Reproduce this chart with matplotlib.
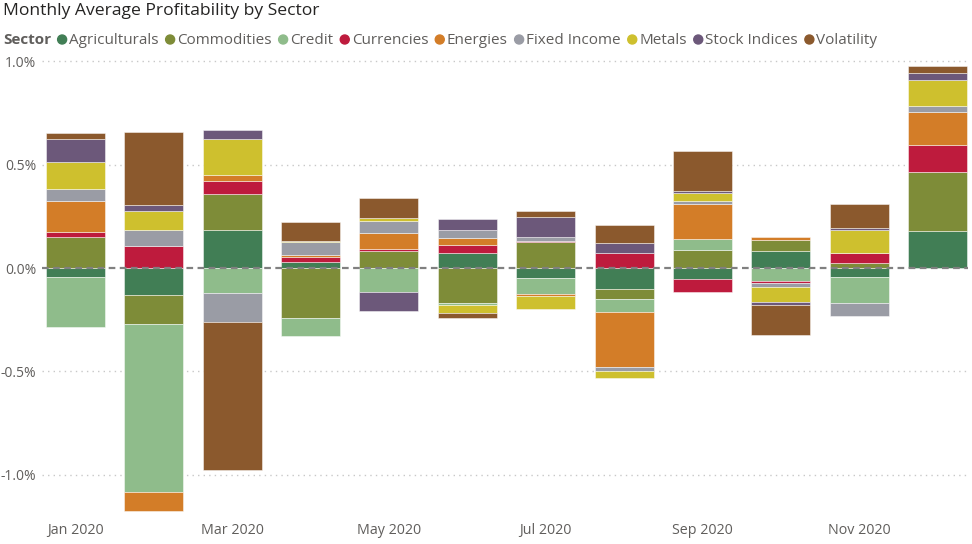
import matplotlib
matplotlib.use("Agg")
import matplotlib.pyplot as plt
import numpy as np

months = ["Jan 2020", "Feb 2020", "Mar 2020", "Apr 2020", "May 2020", "Jun 2020",
          "Jul 2020", "Aug 2020", "Sep 2020", "Oct 2020", "Nov 2020", "Dec 2020"]
sectors = ["Agriculturals", "Commodities", "Credit", "Currencies", "Energies",
           "Fixed Income", "Metals", "Stock Indices", "Volatility"]
colors = ["#417E55", "#7E8C38", "#8FBC8B", "#BE1B3D", "#D37D28",
          "#9A9CA5", "#CEC02E", "#6C587A", "#8B592D"]

agriculturals = [-0.044, -0.132, 0.186, 0.027, 0.0, 0.074, -0.048, -0.103, -0.055, 0.084, -0.044, 0.177]
commodities   = [0.151, -0.140, 0.174, -0.242, 0.080, -0.168, 0.126, -0.048, 0.087, 0.053, 0.024, 0.289]
credit        = [-0.243, -0.811, -0.122, -0.086, -0.115, -0.010, -0.079, -0.063, 0.055, -0.063, -0.127, 0.0]
currencies    = [0.023, 0.106, 0.060, 0.024, 0.013, 0.035, 0.006, 0.074, -0.063, -0.010, 0.050, 0.129]
energies      = [0.151, -0.093, 0.030, 0.010, 0.074, 0.037, -0.006, -0.263, 0.169, 0.015, 0.0, 0.158]
fixed_income  = [0.057, 0.077, -0.140, 0.063, 0.058, 0.037, 0.016, -0.019, 0.015, -0.019, -0.060, 0.032]
metals        = [0.132, 0.092, 0.173, 0.005, 0.015, -0.039, -0.066, -0.035, 0.039, -0.073, 0.110, 0.126]
stock_indices = [0.110, 0.031, 0.044, 0.0, -0.092, 0.053, 0.100, 0.048, 0.008, -0.016, 0.010, 0.031]
volatility    = [0.030, 0.351, -0.716, 0.094, 0.100, -0.026, 0.028, 0.084, 0.192, -0.144, 0.116, 0.037]

series = [agriculturals, commodities, credit, currencies, energies,
          fixed_income, metals, stock_indices, volatility]

yticks = [1.0, 0.5, 0.0, -0.5, -1.0]
ytick_labels = ["1.0%", "0.5%", "0.0%", "-0.5%", "-1.0%"]

plt.rcParams['font.family'] = ['Open Sans', 'DejaVu Sans']

W, H = 972, 544
fig = plt.figure(figsize=(W / 100, H / 100), dpi=100)
left_px, right_px, top_px, bottom_px = 42, 968, 55, 515
ax = fig.add_axes([left_px / W, 1 - bottom_px / H, (right_px - left_px) / W, (bottom_px - top_px) / H])

x = np.arange(len(months))
pos_base = np.zeros(len(months))
neg_base = np.zeros(len(months))
for vals, col in zip(series, colors):
    v = np.array(vals)
    bottoms = np.where(v >= 0, pos_base, neg_base)
    ax.bar(x, v, bottom=bottoms, width=0.753, color=col,
           edgecolor=(1, 1, 1, 0.55), linewidth=0.6, zorder=2)
    pos_base = pos_base + np.where(v > 0, v, 0)
    neg_base = neg_base + np.where(v < 0, v, 0)

px_per_unit = 78.36
ax.set_xlim((left_px - 75.5) / px_per_unit, 11 + (right_px - 937.5) / px_per_unit)
py_per_pct = 206.8
ax.set_ylim(-(bottom_px - 268) / py_per_pct, (268 - top_px) / py_per_pct)

for t in yticks:
    if t == 0:
        continue
    ax.axhline(t, color="#C8C8C8", linestyle=(0, (1, 3)), linewidth=1.0, zorder=1)
ax.axhline(0, color="#808080", linestyle=(0, (3, 2)), linewidth=1.6, zorder=3)

for s in ax.spines.values():
    s.set_visible(False)
ax.set_yticks(yticks)
ax.set_yticklabels(ytick_labels, fontsize=10, color="#605E5C")
ax.set_xticks(x[::2])
ax.set_xticklabels(months[::2], fontsize=10.3, color="#605E5C")
ax.tick_params(axis="both", length=0, pad=4)
ax.tick_params(axis="x", pad=6)

fig.text(3 / W, 1 - 11 / H, "Monthly Average Profitability by Sector", fontsize=12.6,
         color="#252423", ha="left", va="center")

fig.canvas.draw()
renderer = fig.canvas.get_renderer()
ly = 1 - 40.5 / H
t = fig.text(3 / W, ly, "Sector", fontsize=11, fontweight="bold", color="#605E5C",
             ha="left", va="center")
bb = t.get_window_extent(renderer)
xpos = bb.x1 + 11
for name, col in zip(sectors, colors):
    fig.patches.append(matplotlib.patches.Ellipse((xpos / W, ly + 1 / H), 9 / W, 9 / H,
                                                  transform=fig.transFigure, color=col))
    tt = fig.text((xpos + 7) / W, ly, name, fontsize=11, color="#605E5C",
                  ha="left", va="center")
    bb = tt.get_window_extent(renderer)
    xpos = bb.x1 + 11.5

fig.savefig("out.png", dpi=100)
